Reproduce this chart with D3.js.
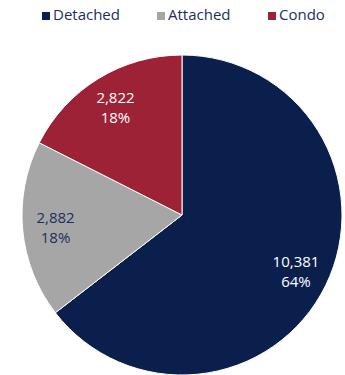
<!DOCTYPE html>
<html>
<head>
<meta charset="utf-8">
<script src="https://cdn.jsdelivr.net/npm/d3@7"></script>
<style>
  body { margin: 0; background: #fff; }
  svg { display: block; font-family: "Open Sans", sans-serif; }
</style>
</head>
<body>
<svg id="chart" width="345" height="375"></svg>
<script>
// data
var categories = ["Detached", "Attached", "Condo"];
var values = [10381, 2882, 2822];
var percents = ["64%", "18%", "18%"];
var colors = ["#0b1f4d", "#a6a6a6", "#9d2235"];
var labelColors = ["#ffffff", "#1b2f5e", "#ffffff"];

var svg = d3.select("#chart"),
    cx = 182, cy = 215, radius = 160;

var data = categories.map(function(c, i) {
  return { name: c, value: values[i], pct: percents[i], color: colors[i], lc: labelColors[i] };
});

var pie = d3.pie().sort(null).value(function(d) { return d.value; });
var arc = d3.arc().innerRadius(0).outerRadius(radius);
var labelArc = d3.arc().innerRadius(127).outerRadius(127);

var g = svg.append("g").attr("transform", "translate(" + cx + "," + cy + ")");

g.selectAll("path")
  .data(pie(data))
  .enter().append("path")
    .attr("d", arc)
    .attr("fill", function(d) { return d.data.color; })
    .attr("stroke", "#fff")
    .attr("stroke-width", 1);

var fmt = d3.format(",");

var labels = g.selectAll(".lbl")
  .data(pie(data))
  .enter().append("text")
    .attr("class", "lbl")
    .attr("transform", function(d) { return "translate(" + labelArc.centroid(d) + ")"; })
    .attr("text-anchor", "middle")
    .attr("font-size", 15)
    .attr("fill", function(d) { return d.data.lc; });

labels.append("tspan").attr("x", 0).attr("y", -4).text(function(d) { return fmt(d.data.value); });
labels.append("tspan").attr("x", 0).attr("y", 16).text(function(d) { return d.data.pct; });

// legend
var legendX = [42, 157, 268];
var legend = svg.append("g").selectAll("g")
  .data(data)
  .enter().append("g")
    .attr("transform", function(d, i) { return "translate(" + legendX[i] + ",0)"; });

legend.append("rect")
  .attr("x", 0).attr("y", 12)
  .attr("width", 8).attr("height", 8)
  .attr("fill", function(d) { return d.color; });

legend.append("text")
  .attr("x", 11).attr("y", 20)
  .attr("font-size", 15)
  .attr("fill", "#1b2f5e")
  .text(function(d) { return d.name; });
</script>
</body>
</html>
